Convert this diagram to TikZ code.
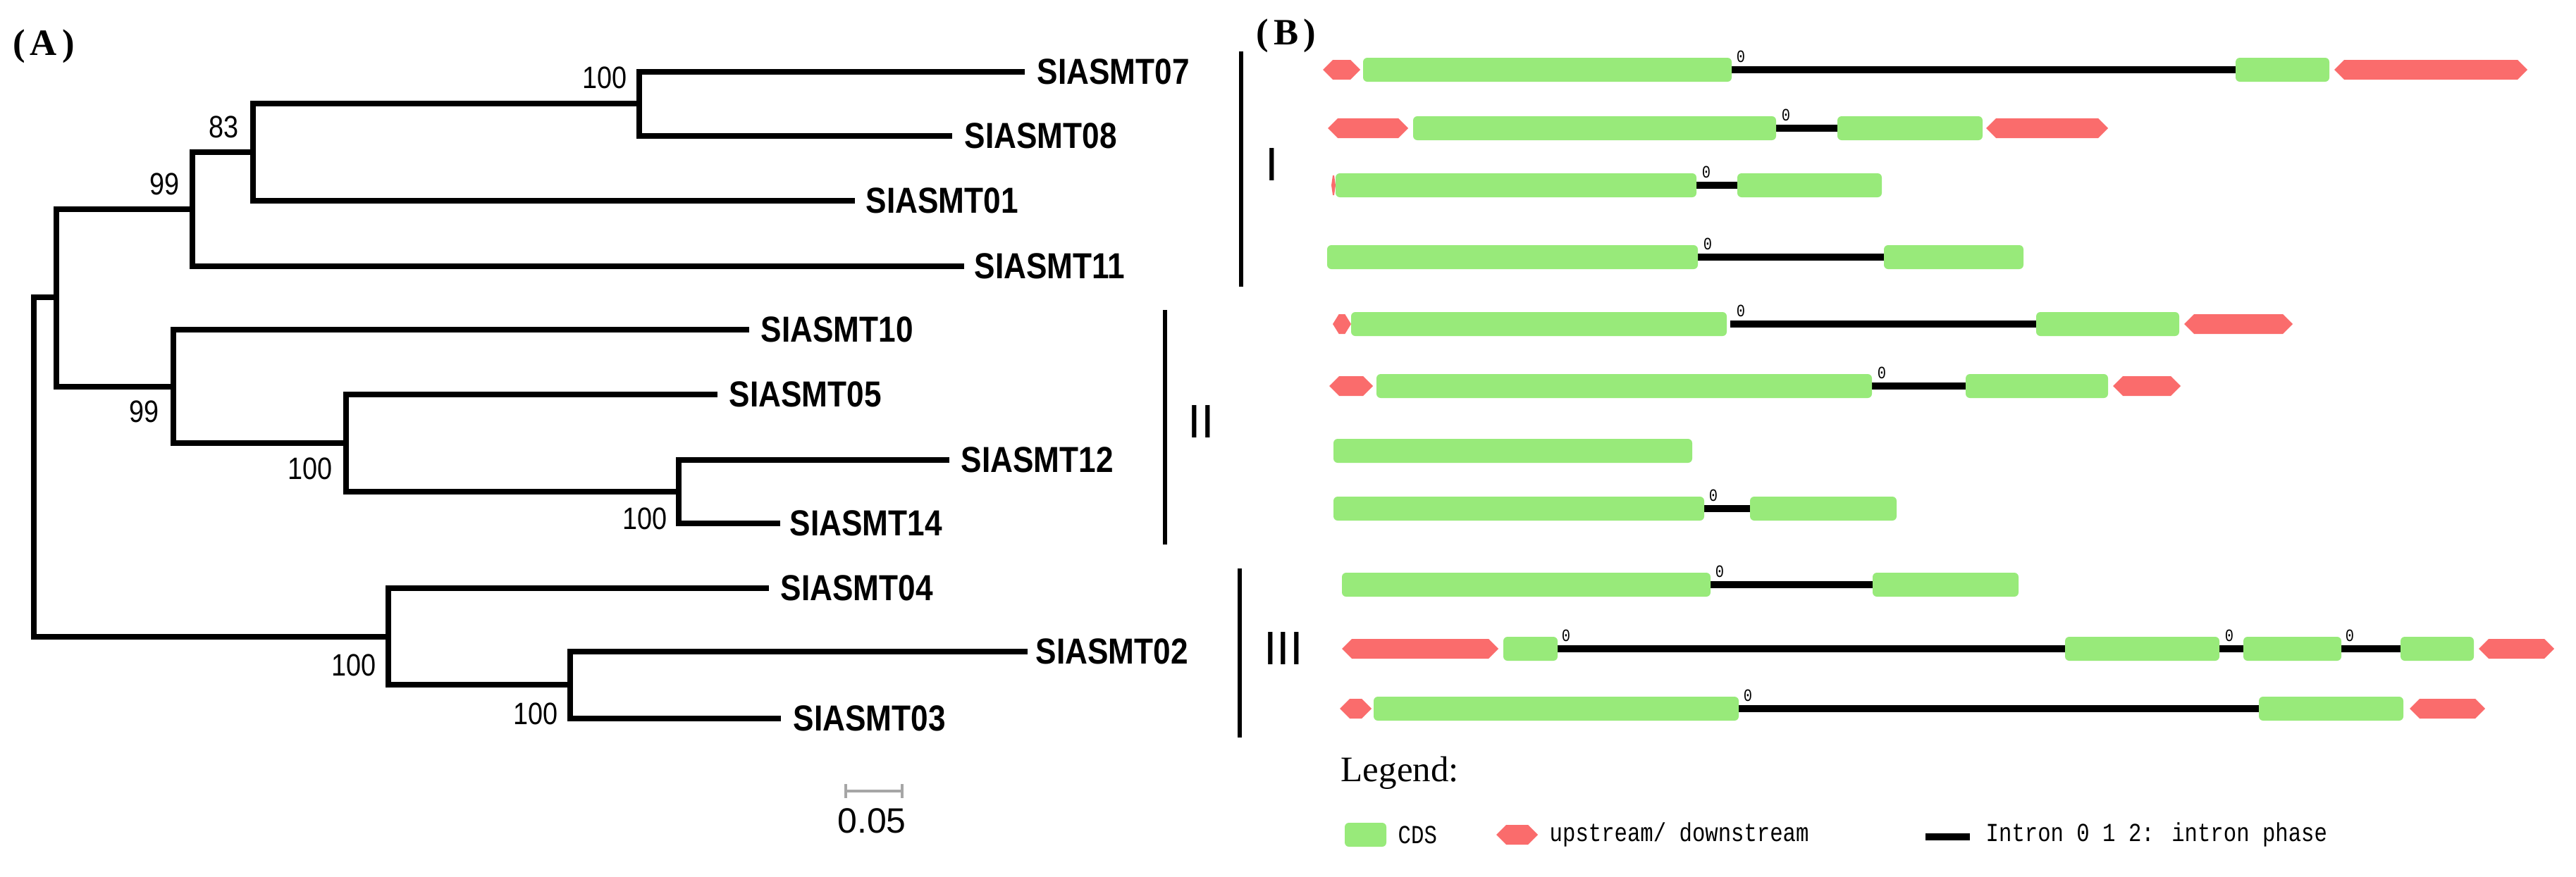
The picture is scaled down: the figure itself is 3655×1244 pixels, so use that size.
\documentclass[tikz,border=0pt]{standalone}
\usepackage{fontspec}
\setmainfont{Liberation Serif}
\newfontfamily\treefont{Liberation Sans}[FakeStretch=0.86]
\newfontfamily\barfont{Liberation Sans}
\newfontfamily\legfont{Liberation Mono}[FakeStretch=0.83]
\usetikzlibrary{positioning}

\definecolor{cdsgreen}{RGB}{152,234,122}
\definecolor{utrred}{RGB}{250,108,108}

\tikzset{
  branch/.style={line width=2.3pt},
  clade/.style={line width=1.8pt},
  leaf/.style={font=\treefont\bfseries\fontsize{14.6}{16}\selectfont, inner sep=0pt},
  boot/.style={font=\treefont\fontsize{12.5}{14}\selectfont, inner sep=0pt},
  roman/.style={font=\barfont\fontsize{19}{21}\selectfont, inner sep=0pt},
  panel/.style={font=\bfseries\fontsize{15}{17}\selectfont, inner sep=0pt},
  cds/.style={fill=cdsgreen, rounded corners=0.06cm},
  utr/.style={fill=utrred},
  intron/.style={line width=2.6pt, black},
  phase/.style={font=\legfont\fontsize{7}{8}\selectfont, inner sep=0pt},
  legtext/.style={font=\legfont\fontsize{10.5}{12}\selectfont, inner sep=0pt, anchor=west}
}

\newcommand\cdsbox[3]{\fill[cds] (#1,#3-17) rectangle (#2,#3+17);}
\newcommand\utrbox[3]{\pgfmathsetmacro\tp{min(14,(#2-#1)/3)}%
  \fill[utr] (#1,#3) -- (#1+\tp,#3-14) -- (#2-\tp,#3-14) -- (#2,#3) -- (#2-\tp,#3+14) -- (#1+\tp,#3+14) -- cycle;}

\begin{document}
\begin{tikzpicture}[x=0.01cm,y=-0.01cm]
\useasboundingbox (0,0) rectangle (3655,1244);
\node[panel] (pa) at (62,66) {(\kern2pt A\kern2pt)};
\node[panel] (pb) at (1825,51) {(\kern2pt B\kern2pt)};

% tree
\coordinate (t07) at (1454,102);\coordinate (t08) at (1351,193);\coordinate (t01) at (1213,285);\coordinate (t11) at (1368,378);
\coordinate (t10) at (1063,468);\coordinate (t05) at (1018,560);\coordinate (t12) at (1347,653);\coordinate (t14) at (1107,743);
\coordinate (t04) at (1091,835);\coordinate (t02) at (1458,925);\coordinate (t03) at (1108,1020);
\coordinate (n0708) at (907,147);\coordinate (n83) at (359,216);\coordinate (n99a) at (273,297);
\coordinate (n1214) at (963,698);\coordinate (n05) at (491,629);\coordinate (n99b) at (246,549);\coordinate (n12) at (80,422);
\coordinate (n0203) at (809,972);\coordinate (n04) at (551,904);\coordinate (root) at (48,663);

\draw[branch] (n0708) |- (t07);\draw[branch] (n0708) |- (t08);
\draw[branch] (n83) |- (n0708);\draw[branch] (n83) |- (t01);
\draw[branch] (n99a) |- (n83);\draw[branch] (n99a) |- (t11);
\draw[branch] (n1214) |- (t12);\draw[branch] (n1214) |- (t14);
\draw[branch] (n05) |- (t05);\draw[branch] (n05) |- (n1214);
\draw[branch] (n99b) |- (t10);\draw[branch] (n99b) |- (n05);
\draw[branch] (n12) |- (n99a);\draw[branch] (n12) |- (n99b);
\draw[branch] (n0203) |- (t02);\draw[branch] (n0203) |- (t03);
\draw[branch] (n04) |- (t04);\draw[branch] (n04) |- (n0203);
\draw[branch] (root) |- (n12);\draw[branch] (root) |- (n04);

\node[leaf, right=0.17cm of t07] (l07) {SIASMT07};\node[leaf, right=0.17cm of t08] (l08) {SIASMT08};
\node[leaf, right=0.15cm of t01] (l01) {SIASMT01};\node[leaf, right=0.14cm of t11] (l11) {SIASMT11};
\node[leaf, right=0.16cm of t10] (l10) {SIASMT10};\node[leaf, right=0.16cm of t05] (l05) {SIASMT05};
\node[leaf, right=0.16cm of t12] (l12) {SIASMT12};\node[leaf, right=0.13cm of t14] (l14) {SIASMT14};
\node[leaf, right=0.16cm of t04] (l04) {SIASMT04};\node[leaf, right=0.11cm of t02] (l02) {SIASMT02};
\node[leaf, right=0.17cm of t03] (l03) {SIASMT03};

\node[boot, above left=0.2cm and 0.17cm of n0708] (b0708) {100};
\node[boot, above left=0.19cm and 0.2cm of n83] (b83) {83};
\node[boot, above left=0.19cm and 0.18cm of n99a] (b99a) {99};
\node[boot, below left=0.19cm and 0.2cm of n99b] (b99b) {99};
\node[boot, below left=0.2cm and 0.19cm of n05] (b05) {100};
\node[boot, below left=0.22cm and 0.16cm of n1214] (b1214) {100};
\node[boot, below left=0.24cm and 0.17cm of n04] (b04) {100};
\node[boot, below left=0.25cm and 0.17cm of n0203] (b0203) {100};

% scale bar
\coordinate (sb1) at (1200,1123);\coordinate (sb2) at (1280,1123);
\draw[gray!70, line width=0.9pt] (sb1) -- (sb2) (1200,1113) -- (1200,1133) (1280,1113) -- (1280,1133);
\node[font=\barfont\fontsize{14.2}{16}\selectfont, inner sep=0pt] (sbl) at (1237,1165) {0.05};

% clades
\coordinate (c1a) at (1761,73);\coordinate (c1b) at (1761,407);\draw[clade] (c1a) -- (c1b);\node[roman] (r1) at (1805,233) {I};
\coordinate (c2a) at (1653,440);\coordinate (c2b) at (1653,773);\draw[clade] (c2a) -- (c2b);\node[roman] (r2) at (1704,598) {II};
\coordinate (c3a) at (1759,807);\coordinate (c3b) at (1759,1047);\draw[clade] (c3a) -- (c3b);\node[roman] (r3) at (1821,920) {III};

% gene structures
\draw[intron] (2457,99) -- (3172,99);\utrbox{1877}{1930}{99}\cdsbox{1934}{2457}{99}\cdsbox{3172}{3305}{99}\utrbox{3312}{3586}{99}\node[phase] (p1) at (2470,80) {0};
\draw[intron] (2520,182) -- (2607,182);\utrbox{1884}{1998}{182}\cdsbox{2005}{2520}{182}\cdsbox{2607}{2813}{182}\utrbox{2818}{2991}{182}\node[phase] (p2) at (2534,163) {0};
\draw[intron] (2407,263) -- (2465,263);\utrbox{1889}{1895}{263}\cdsbox{1895}{2407}{263}\cdsbox{2465}{2670}{263}\node[phase] (p3) at (2421,244) {0};
\draw[intron] (2409,365) -- (2673,365);\cdsbox{1883}{2409}{365}\cdsbox{2673}{2871}{365}\node[phase] (p4) at (2423,346) {0};
\draw[intron] (2455,460) -- (2889,460);\utrbox{1891}{1917}{460}\cdsbox{1917}{2450}{460}\cdsbox{2889}{3092}{460}\utrbox{3099}{3253}{460}\node[phase] (p5) at (2470,441) {0};
\draw[intron] (2656,548) -- (2789,548);\utrbox{1886}{1948}{548}\cdsbox{1953}{2656}{548}\cdsbox{2789}{2991}{548}\utrbox{2998}{3094}{548}\node[phase] (p6) at (2670,529) {0};
\cdsbox{1892}{2401}{640}
\draw[intron] (2418,722) -- (2483,722);\cdsbox{1892}{2418}{722}\cdsbox{2483}{2691}{722}\node[phase] (p7) at (2431,703) {0};
\draw[intron] (2427,830) -- (2657,830);\cdsbox{1904}{2427}{830}\cdsbox{2657}{2864}{830}\node[phase] (p8) at (2440,811) {0};
\draw[intron] (2210,921) -- (3406,921);\utrbox{1904}{2126}{921}\cdsbox{2133}{2210}{921}\cdsbox{2930}{3149}{921}\cdsbox{3183}{3322}{921}\cdsbox{3406}{3510}{921}\utrbox{3517}{3624}{921}
\node[phase] (p9) at (2222,902) {0};\node[phase] (p10) at (3163,902) {0};\node[phase] (p11) at (3334,902) {0};
\draw[intron] (2467,1006) -- (3205,1006);\utrbox{1901}{1946}{1006}\cdsbox{1949}{2467}{1006}\cdsbox{3205}{3410}{1006}\utrbox{3419}{3526}{1006}\node[phase] (p12) at (2480,987) {0};

% legend
\node[font=\fontsize{14.5}{16}\selectfont, inner sep=0pt, anchor=west] (leg) at (1902,1097) {Legend:};
\cdsbox{1908}{1967}{1185}\node[legtext] (lcds) at (1983,1185) {CDS};
\utrbox{2123}{2182}{1185}\node[legtext] (lutr) at (2198,1185) {upstream/ downstream};
\coordinate (li1) at (2732,1188);\coordinate (li2) at (2795,1188);\draw[intron] (li1) -- (li2);
\node[legtext] (lint) at (2817,1185) {Intron 0 1 2: intron phase};
\end{tikzpicture}
\end{document}
